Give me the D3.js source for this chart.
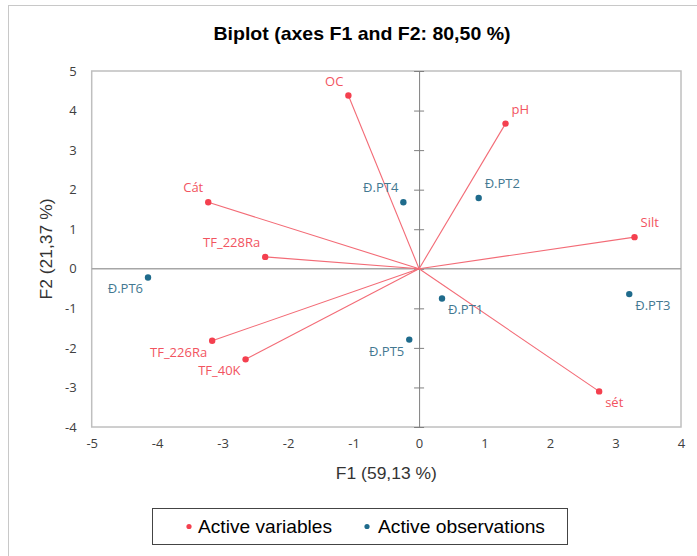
<!DOCTYPE html>
<html>
<head>
<meta charset="utf-8">
<script src="https://cdn.jsdelivr.net/npm/d3@7"></script>
<style>
  html, body { margin: 0; padding: 0; background: #fff; }
  svg { display: block; }
</style>
</head>
<body>
<svg id="chart" width="697" height="556"></svg>
<script>
// Active variables (F1, F2 coordinates)
const varNames = ["OC", "pH", "Silt", "Cát", "TF_228Ra", "TF_226Ra", "TF_40K", "sét"];
const varF1 = [-1.08, 1.32, 3.29, -3.22, -2.35, -3.16, -2.65, 2.75];
const varF2 = [4.38, 3.67, 0.80, 1.68, 0.30, -1.82, -2.29, -3.10];

// Active observations (F1, F2 coordinates)
const obsNames = ["Đ.PT1", "Đ.PT2", "Đ.PT3", "Đ.PT4", "Đ.PT5", "Đ.PT6"];
const obsF1 = [0.35, 0.91, 3.21, -0.24, -0.15, -4.14];
const obsF2 = [-0.75, 1.79, -0.64, 1.68, -1.79, -0.22];

// Axis ticks
const xTicks = [-5, -4, -3, -2, -1, 0, 1, 2, 3, 4];
const yTicks = [-4, -3, -2, -1, 0, 1, 2, 3, 4, 5];

const titleText = "Biplot (axes F1 and F2: 80,50 %)";
const xTitle = "F1 (59,13 %)";
const yTitle = "F2 (21,37 %)";
const legendLabels = ["Active variables", "Active observations"];

const RED = "#f4404f", RED_LINE = "#f36b76", RED_TEXT = "#f2545f";
const BLUE = "#1f6b8c", BLUE_TEXT = "#437891";
const SANS = "Liberation Sans, Arial, sans-serif";

const svg = d3.select("#chart");
const plot = { left: 91.7, right: 681, top: 71, bottom: 427 };

const x = d3.scaleLinear().domain([-5, 4]).range([plot.left, plot.right]);
const y = d3.scaleLinear().domain([-4, 5]).range([plot.bottom, plot.top]);
const fmt = d => String(d);

// outer chart frame (only left and top edges fall inside the view)
svg.append("rect").attr("x", 8.5).attr("y", 5.5).attr("width", 720).attr("height", 580)
  .attr("fill", "none").attr("stroke", "#c8c8c8").attr("stroke-width", 1);

// title
svg.append("text").attr("x", 362).attr("y", 40).attr("text-anchor", "middle")
  .attr("font-family", SANS).attr("font-weight", "bold")
  .attr("font-size", 18.5).attr("textLength", 297).attr("lengthAdjust", "spacingAndGlyphs")
  .attr("fill", "#000").text(titleText);

// plot frame
svg.append("rect").attr("x", plot.left).attr("y", plot.top)
  .attr("width", plot.right - plot.left).attr("height", plot.bottom - plot.top)
  .attr("fill", "none").attr("stroke", "#bfbfbf").attr("stroke-width", 1.5);

// horizontal zero line
svg.append("line").attr("x1", plot.left).attr("x2", plot.right)
  .attr("y1", y(0)).attr("y2", y(0)).attr("stroke", "#a6a6a6").attr("stroke-width", 1.5);

// vertical zero axis with tick marks
const yAxis = d3.axisRight(y).tickValues(yTicks).tickSize(0).tickFormat("");
const gz = svg.append("g").attr("transform", `translate(${x(0)},0)`).call(yAxis);
gz.select(".domain").attr("stroke", "#808080").attr("stroke-width", 1);
gz.selectAll(".tick").append("line").attr("x1", -5).attr("x2", 5)
  .attr("stroke", "#808080").attr("stroke-width", 1);

// tick labels
const tickFont = "Open Sans, DejaVu Sans, sans-serif";
const xAx = svg.append("g").attr("transform", `translate(0,${plot.bottom})`)
  .call(d3.axisBottom(x).tickValues(xTicks).tickSize(0).tickPadding(12).tickFormat(fmt));
xAx.select(".domain").remove();
xAx.selectAll("text").attr("font-family", tickFont).attr("font-size", 13).attr("fill", "#404040");

const yAx = svg.append("g").attr("transform", `translate(${plot.left},0)`)
  .call(d3.axisLeft(y).tickValues(yTicks).tickSize(0).tickPadding(15).tickFormat(fmt));
yAx.select(".domain").remove();
yAx.selectAll("text").attr("font-family", tickFont).attr("font-size", 13).attr("fill", "#404040");

// axis titles
svg.append("text").attr("x", (plot.left + plot.right) / 2).attr("y", 479)
  .attr("text-anchor", "middle").attr("font-family", SANS)
  .attr("font-size", 16.5).attr("textLength", 101).attr("lengthAdjust", "spacingAndGlyphs")
  .attr("fill", "#333").text(xTitle);
svg.append("text").attr("transform", `translate(52,${(plot.top + plot.bottom) / 2}) rotate(-90)`)
  .attr("text-anchor", "middle").attr("font-family", SANS)
  .attr("font-size", 16.5).attr("textLength", 101).attr("lengthAdjust", "spacingAndGlyphs")
  .attr("fill", "#333").text(yTitle);

const vars = varNames.map((n, i) => ({ name: n, f1: varF1[i], f2: varF2[i] }));
const obs = obsNames.map((n, i) => ({ name: n, f1: obsF1[i], f2: obsF2[i] }));

// variable vectors from the origin
svg.append("g").selectAll("line").data(vars).join("line")
  .attr("x1", x(0)).attr("y1", y(0))
  .attr("x2", d => x(d.f1)).attr("y2", d => y(d.f2))
  .attr("stroke", RED_LINE).attr("stroke-width", 1.1);

svg.append("g").selectAll("circle").data(vars).join("circle")
  .attr("cx", d => x(d.f1)).attr("cy", d => y(d.f2)).attr("r", 3.2).attr("fill", RED);

svg.append("g").selectAll("circle").data(obs).join("circle")
  .attr("cx", d => x(d.f1)).attr("cy", d => y(d.f2)).attr("r", 3.2).attr("fill", BLUE);

// point labels placed by quadrant
function placeLabels(data, color) {
  svg.append("g").selectAll("text").data(data).join("text")
    .attr("x", d => x(d.f1) + (d.f1 < 0 ? -5 : 6))
    .attr("y", d => y(d.f2) + (d.f2 > 0 ? -10 : 16))
    .attr("text-anchor", d => d.f1 < 0 ? "end" : "start")
    .attr("font-family", "Open Sans, sans-serif").attr("font-size", 13)
    .attr("fill", color).text(d => d.name);
}
placeLabels(vars, RED_TEXT);
placeLabels(obs, BLUE_TEXT);

// legend
const lg = svg.append("g");
lg.append("rect").attr("x", 152.5).attr("y", 508.5).attr("width", 415).attr("height", 36)
  .attr("fill", "#fff").attr("stroke", "#444").attr("stroke-width", 1);
lg.append("circle").attr("cx", 189).attr("cy", 526.5).attr("r", 2.6).attr("fill", RED);
lg.append("text").attr("x", 198).attr("y", 533).attr("font-family", SANS)
  .attr("font-size", 18.5).attr("textLength", 134).attr("lengthAdjust", "spacingAndGlyphs")
  .attr("fill", "#000").text(legendLabels[0]);
lg.append("circle").attr("cx", 367).attr("cy", 526.5).attr("r", 2.6).attr("fill", BLUE);
lg.append("text").attr("x", 378).attr("y", 533).attr("font-family", SANS)
  .attr("font-size", 18.5).attr("textLength", 167).attr("lengthAdjust", "spacingAndGlyphs")
  .attr("fill", "#000").text(legendLabels[1]);
</script>
</body>
</html>
